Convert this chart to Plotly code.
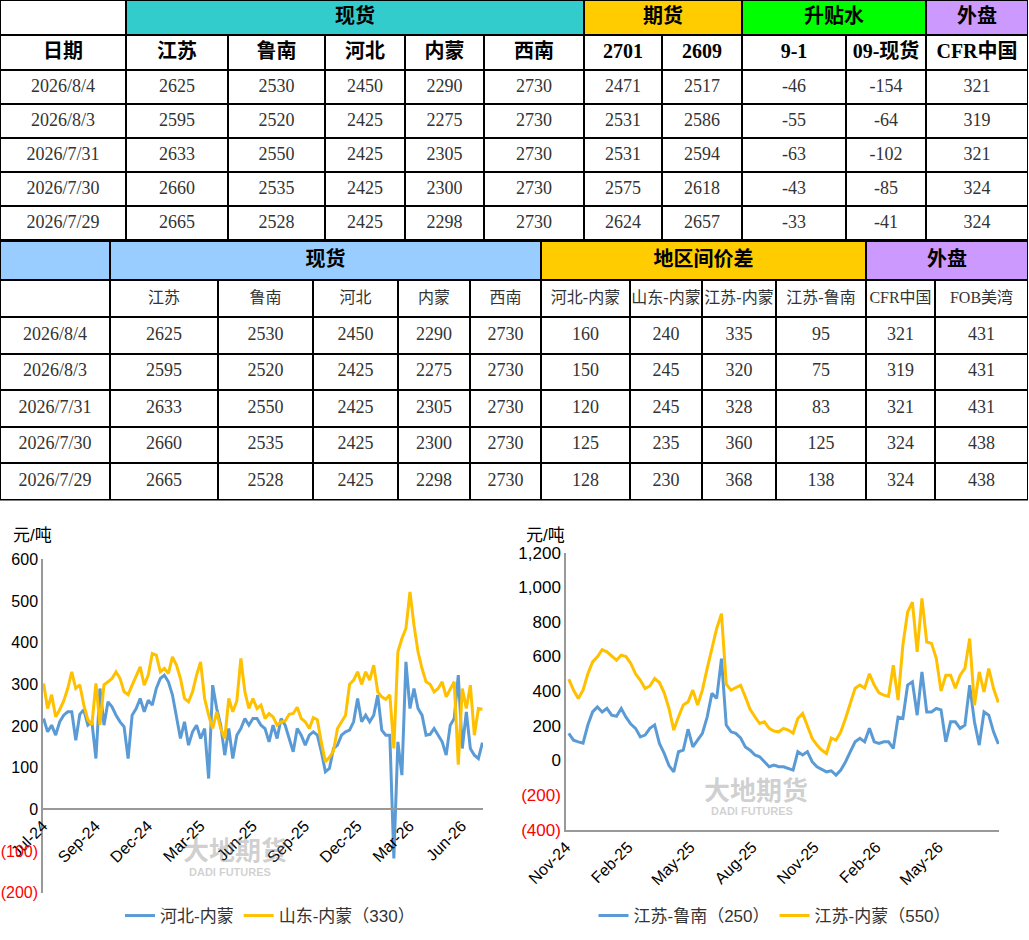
import pandas as pd
import plotly.graph_objects as go

W, H = 1029, 940

# ---- table data ----
dates = ["2026/8/4", "2026/8/3", "2026/7/31", "2026/7/30", "2026/7/29"]
jiangsu = [2625, 2595, 2633, 2660, 2665]
lunan = [2530, 2520, 2550, 2535, 2528]
hebei = [2450, 2425, 2425, 2425, 2425]
neimeng = [2290, 2275, 2305, 2300, 2298]
xinan = [2730, 2730, 2730, 2730, 2730]
fut_2701 = [2471, 2531, 2531, 2575, 2624]
fut_2609 = [2517, 2586, 2594, 2618, 2657]
spread_9_1 = [-46, -55, -63, -43, -33]
basis_09 = [-154, -64, -102, -85, -41]
cfr_china = [321, 319, 321, 324, 324]
fob_usg = [431, 431, 431, 438, 438]
hb_nm = [160, 150, 120, 125, 128]
sd_nm = [240, 245, 245, 235, 230]
js_nm = [335, 320, 328, 360, 368]
js_ln = [95, 75, 83, 125, 138]

t1_groups = ["", "现货", "期货", "升贴水", "外盘"]
t1_cols = ["日期", "江苏", "鲁南", "河北", "内蒙", "西南", "2701", "2609", "9-1", "09-现货", "CFR中国"]
t2_groups = ["", "现货", "地区间价差", "外盘"]
t2_cols = ["", "江苏", "鲁南", "河北", "内蒙", "西南", "河北-内蒙", "山东-内蒙", "江苏-内蒙", "江苏-鲁南", "CFR中国", "FOB美湾"]

# ---- chart data (weekly readings) ----
# left chart: 河北-内蒙 / 山东-内蒙, weekly from 2024-07-02
hb_nm_line = [
    218, 186, 202, 178, 210, 226, 234, 234, 166, 228,
    239, 202, 210, 122, 290, 202, 258, 246, 226, 210,
    198, 122, 226, 242, 266, 234, 262, 250, 290, 314,
    322, 306, 275, 218, 170, 210, 154, 186, 202, 170,
    194, 74, 298, 242, 202, 130, 194, 122, 178, 194,
    218, 202, 218, 218, 202, 194, 162, 202, 170, 218,
    202, 170, 138, 194, 178, 154, 178, 186, 178, 138,
    90, 98, 146, 154, 178, 186, 190, 210, 266, 210,
    226, 210, 226, 274, 190, 178, 178, -118, 162, 82,
    354, 242, 290, 242, 226, 178, 180, 194, 178, 162,
    130, 202, 218, 322, 146, 234, 146, 130, 122, 160,
]
sd_nm_line = [
    302, 242, 275, 222, 239, 260, 290, 330, 290, 299,
    250, 215, 203, 302, 203, 299, 306, 314, 330, 314,
    282, 275, 298, 320, 342, 298, 322, 374, 370, 330,
    338, 326, 366, 346, 314, 266, 258, 282, 322, 354,
    266, 226, 194, 234, 194, 170, 266, 234, 260, 362,
    282, 242, 266, 242, 250, 218, 230, 222, 202, 210,
    212, 228, 230, 245, 218, 210, 194, 220, 215, 160,
    114, 125, 140, 194, 210, 226, 300, 310, 330, 300,
    330, 310, 346, 282, 270, 264, 275, 146, 378, 410,
    434, 522, 442, 378, 338, 306, 300, 282, 290, 306,
    270, 290, 306, 107, 290, 242, 298, 178, 242, 240,
]
# right chart: 江苏-鲁南 / 江苏-内蒙, weekly from 2024-11-12
js_ln_line = [
    156, 117, 107, 100, 204, 280, 309, 280, 300, 261,
    255, 300, 250, 210, 185, 136, 146, 185, 205, 98,
    40, -30, -66, 50, 59, 180, 78, 117, 156, 250,
    387, 358, 588, 204, 165, 156, 130, 78, 59, 31,
    21, -8, -37, -27, -37, -37, -45, -56, 50, 31,
    50, -8, -37, -50, -66, -60, -85, -56, -8, 50,
    107, 127, 107, 185, 107, 98, 107, 107, 69, 250,
    242, 435, 454, 261, 511, 280, 280, 300, 292, 107,
    223, 223, 185, 204, 435, 223, 88, 280, 261, 165,
    95,
]
js_nm_line = [
    470, 406, 358, 406, 500, 569, 598, 640, 627, 600,
    579, 608, 600, 560, 500, 463, 415, 430, 473, 450,
    390, 300, 175, 252, 320, 338, 406, 320, 406, 530,
    640, 762, 848, 440, 406, 420, 434, 367, 295, 252,
    213, 223, 185, 170, 165, 185, 175, 157, 242, 271,
    204, 127, 88, 60, 40, 129, 117, 165, 244, 338,
    417, 435, 417, 500, 435, 390, 377, 370, 550, 348,
    665, 857, 915, 627, 936, 684, 676, 590, 400, 492,
    492, 417, 492, 532, 704, 319, 511, 396, 531, 415,
    335,
]

left_dates = pd.date_range("2024-07-02", periods=len(hb_nm_line), freq="7D")
right_dates = pd.date_range("2024-11-12", periods=len(js_ln_line), freq="7D")

left_tick_dates = ["2024-07-01", "2024-09-30", "2024-12-30", "2025-03-31", "2025-06-30",
                   "2025-09-29", "2025-12-29", "2026-03-30", "2026-06-29"]
left_tick_text = ["Jul-24", "Sep-24", "Dec-24", "Mar-25", "Jun-25", "Sep-25", "Dec-25", "Mar-26", "Jun-26"]
right_tick_dates = ["2024-11-08", "2025-02-07", "2025-05-09", "2025-08-08", "2025-11-07",
                    "2026-02-06", "2026-05-08"]
right_tick_text = ["Nov-24", "Feb-25", "May-25", "Aug-25", "Nov-25", "Feb-26", "May-26"]

left_y_vals = [-200, -100, 0, 100, 200, 300, 400, 500, 600]
left_y_text = ["<span style='color:red'>(200)</span>", "<span style='color:red'>(100)</span>",
               "0", "100", "200", "300", "400", "500", "600"]
right_y_vals = [-400, -200, 0, 200, 400, 600, 800, 1000, 1200]
right_y_text = ["<span style='color:red'>(400)</span>", "<span style='color:red'>(200)</span>",
                "0", "200", "400", "600", "800", "1,000", "1,200"]

# ---- table geometry (px) ----
t1_group_w = [126, 458, 158, 184, 102]
t1_col_w = [126, 102, 97, 80, 79, 100, 78, 80, 104, 80, 102]
t1_row_h = [35, 35, 34, 34, 34, 34, 34]          # group, header, 5 rows
t2_group_w = [110, 431, 325, 162]
t2_col_w = [110, 108, 95, 85, 72, 71, 89, 72, 74, 90, 69, 93]
t2_row_h = [39, 37, 36.5, 36.5, 36.5, 36.5, 36.5]
t2_top = 241

BLUE = "#5B9BD5"
GOLD = "#FFC000"
SERIF = "Liberation Serif, Noto Sans CJK SC, serif"
CJK = "Noto Sans CJK SC, sans-serif"
SANS = "Liberation Sans, Noto Sans CJK SC, sans-serif"


def py(px):
    # pixel row from top -> paper fraction
    return 1 - px / H


def edges(sizes, start=0):
    out = [start]
    for s in sizes:
        out.append(out[-1] + s)
    return out


def mids(e):
    return [(a + b) / 2 for a, b in zip(e[:-1], e[1:])]


def palette(colors):
    if len(colors) == 1:
        colors = colors * 2
    n = len(colors)
    return [[i / (n - 1), c] for i, c in enumerate(colors)]


def bold(vals):
    return ["<b>%s</b>" % v for v in vals]


fig = go.Figure()


def cell_block(x_edges, y_edges, fills):
    nrow = len(y_edges) - 1
    ncol = len(x_edges) - 1
    if len(fills) == 1:
        z = [[0] * ncol for _ in range(nrow)]
    else:
        z = [list(range(ncol)) for _ in range(nrow)]
    fig.add_trace(go.Heatmap(
        x=x_edges, y=y_edges, z=z, colorscale=palette(fills), zmin=0,
        zmax=max(len(fills) - 1, 1), showscale=False, xgap=2, ygap=2,
        hoverinfo="skip", xaxis="x3", yaxis="y3"))


def cell_text(xs, ys, texts, font):
    fig.add_trace(go.Scatter(
        x=xs, y=ys, text=texts, mode="text", textposition="middle center",
        textfont=font, hoverinfo="skip", showlegend=False, xaxis="x3", yaxis="y3"))


def draw_table(top, group_w, group_labels, group_fills, col_w, row_h, header,
               header_font, columns, cell_font):
    ye = edges(row_h, top)
    ym = mids(ye)
    ge = edges(group_w)
    ce = edges(col_w)
    cm = mids(ce)
    cell_block(ge, ye[:2], group_fills)
    cell_block(ce, ye[1:], ["white"])
    cell_text(mids(ge), [ym[0]] * len(group_labels), bold(group_labels),
              dict(family=CJK, size=20, color="black"))
    cell_text(cm, [ym[1]] * len(header), header, header_font)
    xs, ys, ts = [], [], []
    for j, col in enumerate(columns):
        for i, v in enumerate(col):
            xs.append(cm[j])
            ys.append(ym[2 + i])
            ts.append(str(v))
    cell_text(xs, ys, ts, cell_font)
    return ye[-1]


num_font = dict(family=SERIF, size=18, color="#333333")
t1_bottom = draw_table(0, t1_group_w, t1_groups,
                       ["white", "#33CCCC", "#FFCC00", "#00FF00", "#CC99FF"],
                       t1_col_w, t1_row_h, bold(t1_cols),
                       dict(family=SERIF, size=20, color="black"),
                       [dates, jiangsu, lunan, hebei, neimeng, xinan, fut_2701, fut_2609,
                        spread_9_1, basis_09, cfr_china], num_font)
t2_bottom = draw_table(t2_top, t2_group_w, t2_groups,
                       ["#99CCFF", "#99CCFF", "#FFCC00", "#CC99FF"],
                       t2_col_w, t2_row_h, t2_cols,
                       dict(family=SERIF, size=16, color="#333333"),
                       [dates, jiangsu, lunan, hebei, neimeng, xinan, hb_nm, sd_nm, js_nm,
                        js_ln, cfr_china, fob_usg], num_font)

# black backing shows through the cell gaps as grid lines
for y0, y1 in [(0, t1_bottom + 1), (t2_top - 1, t2_bottom + 1)]:
    fig.add_shape(type="rect", xref="x3", yref="y3", x0=0, x1=sum(t1_col_w),
                  y0=y0, y1=y1, fillcolor="black", line=dict(width=0), layer="below")

# ---- left chart ----
fig.add_trace(go.Scatter(x=left_dates, y=hb_nm_line, mode="lines", name="河北-内蒙",
                         line=dict(color=BLUE, width=3), xaxis="x", yaxis="y", legend="legend"))
fig.add_trace(go.Scatter(x=left_dates, y=sd_nm_line, mode="lines", name="山东-内蒙（330）",
                         line=dict(color=GOLD, width=3), xaxis="x", yaxis="y", legend="legend"))
# ---- right chart ----
fig.add_trace(go.Scatter(x=right_dates, y=js_ln_line, mode="lines", name="江苏-鲁南（250）",
                         line=dict(color=BLUE, width=3), xaxis="x2", yaxis="y2", legend="legend2"))
fig.add_trace(go.Scatter(x=right_dates, y=js_nm_line, mode="lines", name="江苏-内蒙（550）",
                         line=dict(color=GOLD, width=3), xaxis="x2", yaxis="y2", legend="legend2"))

left_ydom = [py(892.7), py(559.3)]
left_zero = left_ydom[0] + (left_ydom[1] - left_ydom[0]) * 200 / 800
right_ydom = [py(829.6), py(552.7)]
table_h = 505

tickfont = dict(family=SANS, size=16, color="black")

fig.update_layout(
    width=W, height=H,
    margin=dict(l=0, r=0, t=0, b=0, autoexpand=False),
    paper_bgcolor="white", plot_bgcolor="white",
    xaxis=dict(domain=[43 / W, 483 / W], anchor="free", position=left_zero,
               range=["2024-07-01", "2026-08-05"], type="date", automargin=False,
               tickvals=left_tick_dates, ticktext=left_tick_text, tickangle=-45,
               showline=True, linecolor="#999999", linewidth=2, showgrid=False,
               ticks="", tickfont=tickfont, zeroline=False),
    yaxis=dict(domain=left_ydom, anchor="x", range=[-200, 600], automargin=False,
               tickvals=left_y_vals, ticktext=left_y_text,
               showline=True, linecolor="#999999", linewidth=1.5, showgrid=False,
               zeroline=False, ticks="", tickfont=tickfont),
    xaxis2=dict(domain=[566 / W, 999 / W], anchor="y2", automargin=False,
                range=["2024-11-08", "2026-08-05"], type="date",
                tickvals=right_tick_dates, ticktext=right_tick_text, tickangle=-45,
                showline=True, linecolor="#999999", linewidth=2, showgrid=False,
                ticks="", tickfont=tickfont, zeroline=False),
    yaxis2=dict(domain=right_ydom, anchor="x2", range=[-400, 1200], automargin=False,
                tickvals=right_y_vals, ticktext=right_y_text,
                showline=True, linecolor="#999999", linewidth=1.5, showgrid=False,
                zeroline=False, ticks="", tickfont=dict(family=SANS, size=17, color="black")),
    xaxis3=dict(domain=[0, 1], range=[0, W], visible=False, fixedrange=True, anchor="y3"),
    yaxis3=dict(domain=[py(table_h), 1], range=[table_h, 0], visible=False,
                fixedrange=True, anchor="x3"),
    legend=dict(orientation="h", x=270 / W, xanchor="center", y=py(916), yanchor="middle",
                font=dict(family=SANS, size=17, color="#333333"), bgcolor="rgba(0,0,0,0)"),
    legend2=dict(orientation="h", x=775 / W, xanchor="center", y=py(916), yanchor="middle",
                 font=dict(family=SANS, size=17, color="#333333"), bgcolor="rgba(0,0,0,0)"),
    showlegend=True,
)

# unit labels and watermarks
notes = [
    dict(x=32 / W, y=py(535), text="元/吨", font=dict(family=SANS, size=17, color="black")),
    dict(x=545 / W, y=py(535), text="元/吨", font=dict(family=SANS, size=17, color="black")),
    dict(x=235 / W, y=py(848), text="<b>大地期货</b>",
         font=dict(family=CJK, size=26, color="rgba(120,120,120,0.35)")),
    dict(x=230 / W, y=py(872), text="<b>DADI FUTURES</b>",
         font=dict(family="Liberation Sans", size=11, color="rgba(120,120,120,0.35)")),
    dict(x=756 / W, y=py(788), text="<b>大地期货</b>",
         font=dict(family=CJK, size=26, color="rgba(120,120,120,0.35)")),
    dict(x=752 / W, y=py(811), text="<b>DADI FUTURES</b>",
         font=dict(family="Liberation Sans", size=11, color="rgba(120,120,120,0.35)")),
]
for n in notes:
    fig.add_annotation(xref="paper", yref="paper", showarrow=False, xanchor="center",
                       yanchor="middle", **n)

fig.write_html("out.html", config={"displayModeBar": False},
               post_script="document.body.style.margin='0px';")
